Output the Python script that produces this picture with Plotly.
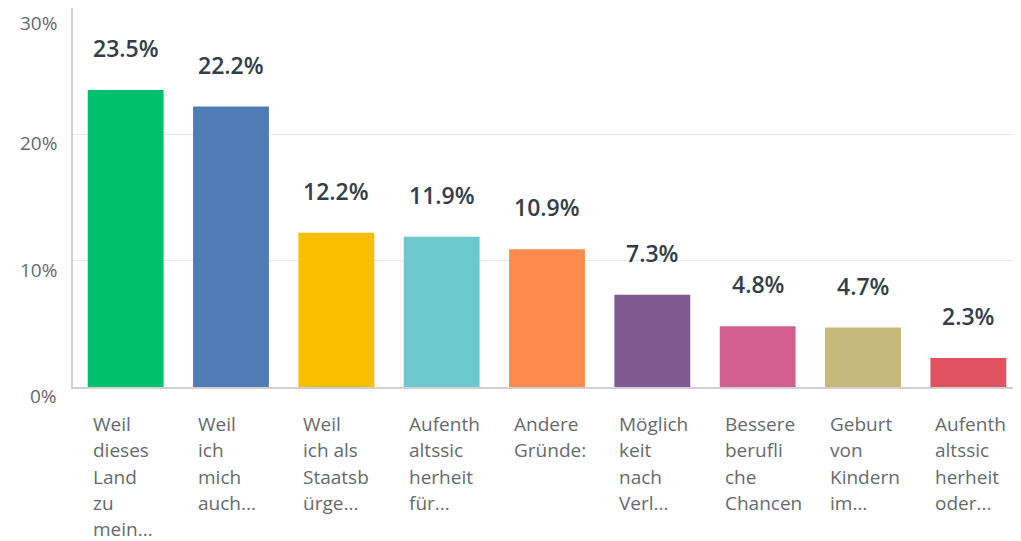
import plotly.graph_objects as go

categories = [
    "Weil<br>dieses<br>Land<br>zu<br>mein...",
    "Weil<br>ich<br>mich<br>auch...",
    "Weil<br>ich als<br>Staatsb<br>ürge...",
    "Aufenth<br>altssic<br>herheit<br>für...",
    "Andere<br>Gründe:",
    "Möglich<br>keit<br>nach<br>Verl...",
    "Bessere<br>berufli<br>che<br>Chancen",
    "Geburt<br>von<br>Kindern<br>im...",
    "Aufenth<br>altssic<br>herheit<br>oder...",
]
values = [23.5, 22.2, 12.2, 11.9, 10.9, 7.3, 4.8, 4.7, 2.3]
colors = ["#00bf6f", "#507cb6", "#f9be00", "#6bc8cd", "#ff8b4f",
          "#7f5a91", "#d25f90", "#c7b879", "#e05260"]
y_ticks = [0, 10, 20, 30]
y_ticklabels = ["0%", "10%", "20%", "30%"]

xs = list(range(len(categories)))
FONT = "Open Sans, Noto Sans, sans-serif"
LABEL_COLOR = "#666a6e"

fig = go.Figure(go.Bar(x=xs, y=values, marker=dict(color=colors, line=dict(width=0)),
                       width=0.72, hoverinfo="skip"))

annotations = []
for i, (c, v) in enumerate(zip(categories, values)):
    annotations.append(dict(x=i, y=v, xref="x", yref="y", text=f"{v:.1f}%",
                            showarrow=False, yanchor="bottom", yshift=24,
                            font=dict(family=FONT, size=23, color="#333e48", weight=600)))
    for k, line in enumerate(c.split("<br>")):
        annotations.append(dict(x=i, y=0, xref="x", yref="y", text=line, showarrow=False,
                                xanchor="left", yanchor="middle", xshift=-35,
                                yshift=-(37 + 26.3 * k), align="left",
                                font=dict(family=FONT, size=19, color=LABEL_COLOR)))
for t, lab in zip(y_ticks, y_ticklabels):
    top = t == y_ticks[-1]
    annotations.append(dict(x=0, xref="paper", y=t, yref="y", text=lab, showarrow=False,
                            xanchor="right", yanchor="top" if top else "middle",
                            xshift=-14, yshift=0 if top else -9,
                            font=dict(family=FONT, size=19, color=LABEL_COLOR)))

fig.update_layout(
    width=1013, height=533,
    margin=dict(l=65, r=0, t=0, b=154),
    plot_bgcolor="white", paper_bgcolor="white",
    showlegend=False,
    annotations=annotations,
    xaxis=dict(range=[-0.5, len(categories) - 0.5], showticklabels=False,
               showgrid=False, zeroline=False, showline=True,
               linecolor="#d0d0d0", linewidth=2, ticks=""),
    yaxis=dict(range=[0, 30], tickvals=y_ticks, showticklabels=False,
               showgrid=True, gridcolor="#e8e8e8", gridwidth=1, zeroline=False,
               showline=True, linecolor="#d0d0d0", linewidth=2, ticks=""),
)

fig.write_html("out.html")
